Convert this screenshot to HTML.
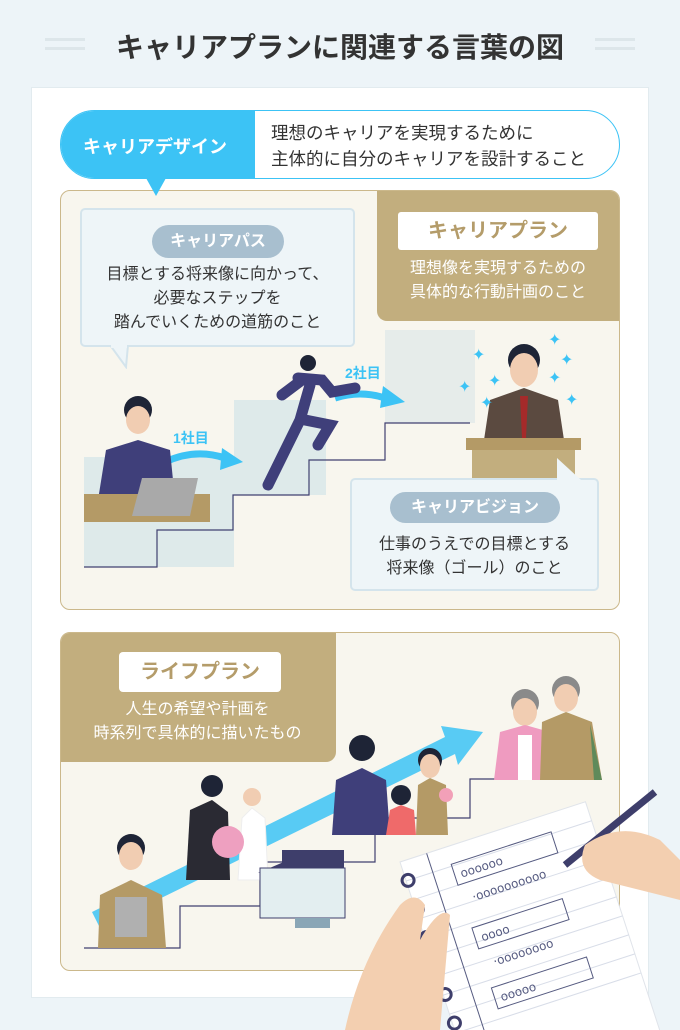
<!DOCTYPE html>
<html><head><meta charset="utf-8"><style>
*{margin:0;padding:0;box-sizing:border-box}
html,body{width:680px;height:1030px;overflow:hidden}
body{background:#edf4f8;position:relative;font-family:"Liberation Sans","Noto Sans CJK JP",sans-serif;color:#333}
.a{position:absolute}
.c{text-align:center}
</style></head><body>
<div class="a" style="left:45px;top:38px;width:40px;height:3px;background:#dde6ea"></div>
<div class="a" style="left:45px;top:47px;width:40px;height:3px;background:#dde6ea"></div>
<div class="a" style="left:595px;top:38px;width:40px;height:3px;background:#dde6ea"></div>
<div class="a" style="left:595px;top:47px;width:40px;height:3px;background:#dde6ea"></div>
<div class="a c" style="left:0;top:26px;width:680px;font-size:28px;font-weight:bold;color:#333">キャリアプランに関連する言葉の図</div>
<div class="a" style="left:31px;top:87px;width:618px;height:911px;background:#fff;border:1px solid #e2ebef"></div>

<div class="a" style="left:60px;top:110px;width:560px;height:69px;border:1px solid #3cc3f5;border-radius:35px;background:#fff;overflow:hidden">
<div class="a" style="left:0;top:0;width:194px;height:69px;background:#3cc3f5"></div>
<div class="a" style="left:22px;top:22px;color:#fff;font-size:18px;font-weight:bold">キャリアデザイン</div>
<div class="a" style="left:210px;top:9px;font-size:17.5px;line-height:26px">理想のキャリアを実現するために<br>主体的に自分のキャリアを設計すること</div>
</div>

<div class="a" style="left:60px;top:190px;width:560px;height:420px;background:#f8f6ee;border:1px solid #cbb88b;border-radius:10px;overflow:hidden">
<div class="a" style="left:316px;top:0;width:244px;height:130px;background:#c2ae7e;border-radius:0 0 0 10px"></div>
</div>
<svg class="a" style="left:0;top:0" width="680" height="1030">
<polygon points="146,178 166,178 156,196" fill="#3cc3f5"/>
<rect x="84" y="457" width="150" height="110" fill="#deeaea"/>
<rect x="234" y="400" width="92" height="95" fill="#deeaea"/>
<rect x="385" y="330" width="90" height="93" fill="#e6ecea"/>
<polyline points="84,567 157,567 157,530 233,530 233,495 309,495 309,460 385,460 385,423 470,423" fill="none" stroke="#404070" stroke-width="1.2"/>
<path d="M165,462 Q195,448 225,458" stroke="#3cc3f5" stroke-width="7" fill="none"/>
<polygon points="222,448 243,462 220,470" fill="#3cc3f5"/>
<path d="M335,398 Q360,390 385,398" stroke="#3cc3f5" stroke-width="7" fill="none"/>
<polygon points="383,386 405,402 380,408" fill="#3cc3f5"/>
<text x="173" y="443" font-size="14" fill="#3cc3f5" font-weight="bold" font-family="Liberation Sans,Noto Sans CJK JP,sans-serif">1社目</text>
<text x="345" y="378" font-size="14" fill="#3cc3f5" font-weight="bold" font-family="Liberation Sans,Noto Sans CJK JP,sans-serif">2社目</text>
<circle cx="138" cy="410" r="14" fill="#1e2436"/>
<ellipse cx="138" cy="420" rx="12" ry="14" fill="#f1cdb2"/>
<path d="M98,500 L106,450 L138,440 L170,450 L175,500 Z" fill="#3f3f7a"/>
<rect x="84" y="494" width="126" height="28" fill="#b49a66"/>
<polygon points="142,478 198,478 190,516 132,516" fill="#a9a9a9"/>
<circle cx="308" cy="363" r="8" fill="#1e2436"/>
<path d="M298,378 L322,380 L332,392 L355,388 M302,380 L282,395 M310,385 L300,420 L268,485 M305,420 L330,425 L318,445" stroke="#3f3f7a" stroke-width="11" fill="none" stroke-linecap="round"/>
<circle cx="524" cy="360" r="16" fill="#1e2436"/>
<ellipse cx="524" cy="370" rx="14" ry="17" fill="#f1cdb2"/>
<path d="M484,440 L490,400 L524,388 L558,400 L564,440 Z" fill="#5b4a40"/>
<polygon points="520,396 528,396 526,438 522,438" fill="#a52a2a"/>
<rect x="466" y="438" width="115" height="12" fill="#b49a66"/>
<rect x="472" y="450" width="103" height="30" fill="#c2ae7e"/>
<g fill="#3cc3f5" font-size="16" font-family="DejaVu Sans"><text x="458" y="392">✦</text><text x="472" y="360">✦</text><text x="488" y="386">✦</text><text x="548" y="383">✦</text><text x="560" y="365">✦</text><text x="565" y="405">✦</text><text x="480" y="408">✦</text><text x="548" y="345">✦</text></g>
</svg>
<div class="a c" style="left:398px;top:212px;width:200px;height:38px;background:#fff;border-radius:3px;color:#b49c6a;font-size:20px;font-weight:bold;line-height:38px">キャリアプラン</div>
<div class="a c" style="left:380px;top:257px;width:236px;color:#fff;font-size:16px;line-height:24px">理想像を実現するための<br>具体的な行動計画のこと</div>
<div class="a" style="left:80px;top:208px;width:275px;height:139px;background:#eef5f8;border:2px solid #d4e4ec;border-radius:5px"></div>
<svg class="a" style="left:108px;top:345px" width="25" height="24"><polygon points="2,0 20,0 18,22" fill="#eef5f8" stroke="#d4e4ec" stroke-width="2"/><rect x="3" y="0" width="16" height="3" fill="#eef5f8"/></svg>
<div class="a c" style="left:152px;top:225px;width:132px;height:33px;background:#a8bfcf;border-radius:17px;color:#fff;font-size:16px;font-weight:bold;line-height:33px">キャリアパス</div>
<div class="a c" style="left:80px;top:263px;width:275px;font-size:16px;line-height:24px">目標とする将来像に向かって、<br>必要なステップを<br>踏んでいくための道筋のこと</div>
<div class="a" style="left:350px;top:478px;width:249px;height:113px;background:#eef5f8;border:2px solid #d4e4ec;border-radius:5px"></div>
<svg class="a" style="left:555px;top:458px" width="28" height="23"><polygon points="2,0 26,22 2,22" fill="#eef5f8"/></svg>
<div class="a c" style="left:390px;top:492px;width:170px;height:31px;background:#a8bfcf;border-radius:16px;color:#fff;font-size:16px;font-weight:bold;line-height:31px">キャリアビジョン</div>
<div class="a c" style="left:350px;top:533px;width:249px;font-size:16px;line-height:24px">仕事のうえでの目標とする<br>将来像（ゴール）のこと</div>

<div class="a" style="left:60px;top:632px;width:560px;height:339px;background:#f8f6ee;border:1px solid #cbb88b;border-radius:10px;overflow:hidden">
<div class="a" style="left:0;top:0;width:275px;height:129px;background:#c2ae7e;border-radius:0 0 10px 0"></div>
</div>
<div class="a c" style="left:119px;top:652px;width:162px;height:40px;background:#fff;border-radius:4px;color:#b49c6a;font-size:20px;font-weight:bold;line-height:40px">ライフプラン</div>
<div class="a c" style="left:60px;top:698px;width:275px;color:#fff;font-size:16px;line-height:24px">人生の希望や計画を<br>時系列で具体的に描いたもの</div>
<svg class="a" style="left:0;top:0" width="680" height="1030">
<polyline points="84,948 180,948 180,906 260,906 260,862 375,862 375,818 470,818 470,779 500,779" fill="none" stroke="#404070" stroke-width="1.2"/>
<polygon points="92,912 445,737 441,726 483,732 458,765 455,754 100,928" fill="#3cc3f5" opacity="0.85"/>
<circle cx="131" cy="848" r="14" fill="#1e2436"/>
<ellipse cx="131" cy="856" rx="12" ry="14" fill="#f1cdb2"/>
<path d="M98,948 L100,895 L131,880 L162,895 L166,948 Z" fill="#b49a66"/>
<rect x="115" y="897" width="32" height="40" fill="#b0b0b0"/>
<circle cx="212" cy="786" r="11" fill="#1e2436"/>
<path d="M186,880 L190,810 L212,800 L228,812 L230,880 Z" fill="#2a2a33"/>
<circle cx="252" cy="797" r="9" fill="#f1cdb2"/>
<path d="M238,880 L242,818 L252,808 L265,818 L268,880 Z" fill="#fff" stroke="#eee"/>
<circle cx="228" cy="842" r="16" fill="#eea0c0"/>
<polygon points="258,873 300,855 345,870 258,873" fill="#3e3e6b"/>
<rect x="282" y="850" width="62" height="18" fill="#3e3e6b"/>
<rect x="260" y="868" width="85" height="50" fill="#e3eef0" stroke="#3e3e6b"/>
<rect x="295" y="918" width="35" height="10" fill="#8aa6b6"/>
<circle cx="362" cy="748" r="13" fill="#1e2436"/>
<path d="M332,835 L336,780 L362,768 L386,780 L390,835 Z" fill="#3f3f7a"/>
<circle cx="401" cy="795" r="10" fill="#1e2436"/>
<path d="M386,835 L390,810 L401,805 L414,810 L416,835 Z" fill="#ef6a6a"/>
<circle cx="430" cy="760" r="12" fill="#1e2436"/>
<ellipse cx="430" cy="766" rx="10" ry="12" fill="#f1cdb2"/>
<path d="M416,835 L418,785 L430,778 L446,785 L448,835 Z" fill="#b49a66"/>
<circle cx="446" cy="795" r="7" fill="#f2a0b8"/>
<circle cx="525" cy="703" r="14" fill="#8a8a8a"/>
<ellipse cx="525" cy="712" rx="12" ry="14" fill="#f1cdb2"/>
<path d="M494,780 L500,732 L525,725 L550,732 L553,780 Z" fill="#ef9bc0"/>
<rect x="518" y="735" width="14" height="45" fill="#fff"/>
<circle cx="566" cy="690" r="14" fill="#8a8a8a"/>
<ellipse cx="566" cy="698" rx="12" ry="14" fill="#f1cdb2"/>
<path d="M540,780 L542,722 L566,712 L592,722 L602,780 Z" fill="#b49a66"/>
<path d="M590,724 L602,780 L594,780 Z" fill="#5f8a5a"/>
<g transform="translate(400 862) rotate(-18)">
<rect x="0" y="0" width="195" height="250" fill="#fff" stroke="#e0e4ea"/>
<g stroke="#d8dde8" stroke-width="1"><line x1="0" y1="20" x2="195" y2="20"/><line x1="0" y1="40" x2="195" y2="40"/><line x1="0" y1="60" x2="195" y2="60"/><line x1="0" y1="80" x2="195" y2="80"/><line x1="0" y1="100" x2="195" y2="100"/><line x1="0" y1="120" x2="195" y2="120"/><line x1="0" y1="140" x2="195" y2="140"/><line x1="0" y1="160" x2="195" y2="160"/><line x1="0" y1="180" x2="195" y2="180"/></g>
<line x1="28" y1="0" x2="28" y2="250" stroke="#555a80"/>
<g fill="none" stroke="#555a80"><rect x="48" y="18" width="105" height="22"/><rect x="48" y="85" width="95" height="22"/><rect x="48" y="148" width="100" height="22"/></g>
<g fill="#555a80" font-size="12" font-family="DejaVu Sans"><text x="54" y="34">oooooo</text><text x="58" y="60">·oooooooooo</text><text x="54" y="101">oooo</text><text x="58" y="128">·oooooooo</text><text x="54" y="164">ooooo</text></g>
<g fill="none" stroke="#3e3e6b" stroke-width="3"><circle cx="2" cy="20" r="6"/><circle cx="2" cy="50" r="6"/><circle cx="2" cy="80" r="6"/><circle cx="2" cy="110" r="6"/><circle cx="2" cy="140" r="6"/><circle cx="2" cy="170" r="6"/></g>
</g>
<line x1="565" y1="865" x2="655" y2="792" stroke="#3e3e6b" stroke-width="7"/>
<path d="M585,845 Q620,820 660,840 L680,860 L680,900 Q640,890 600,880 Q575,870 585,845Z" fill="#f3cfb0"/>
<path d="M345,1030 Q360,960 400,905 Q415,890 425,905 L420,940 Q440,905 450,915 L440,1030 Z" fill="#f3cfb0"/>
</svg>
</body></html>
